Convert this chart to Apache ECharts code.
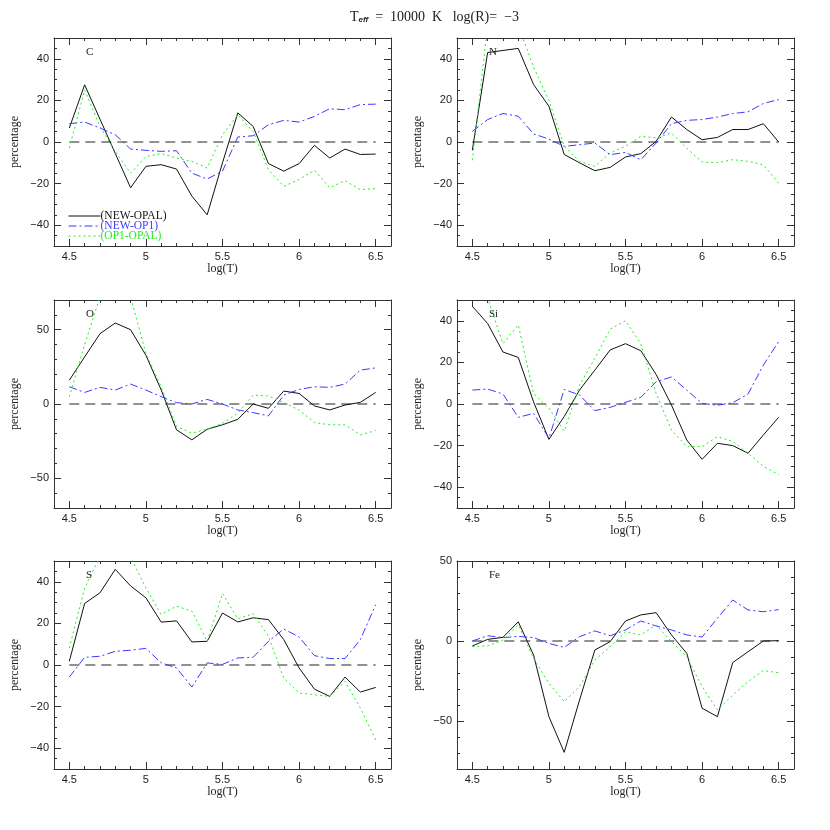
<!DOCTYPE html>
<html>
<head>
<meta charset="utf-8">
<script src="https://cdn.jsdelivr.net/npm/echarts@6/dist/echarts.min.js"></script>
<style>
html, body { margin: 0; padding: 0; background: #fff; }
#chart { width: 830px; height: 830px; }
</style>
</head>
<body>
<div id="chart"></div>
<script>
// log(T) grid, same for every panel
const logT = [4.5, 4.6, 4.7, 4.8, 4.9, 5.0, 5.1, 5.2, 5.3, 5.4, 5.5, 5.6, 5.7, 5.8, 5.9, 6.0, 6.1, 6.2, 6.3, 6.4, 6.5]
const xTicks = [4.5, 5, 5.5, 6, 6.5]
const seriesNames = ['(NEW-OPAL)', '(NEW-OP1)', '(OP1-OPAL)']
const elements = ['C', 'N', 'O', 'Si', 'S', 'Fe']

// C
const C_newOpal = [6.7, 27.5, 11, -5.5, -22, -11.7, -10.9, -13, -26, -35, -10, 14, 7.5, -10.4, -14, -10.4, -1.6, -7.7, -3.4, -6, -5.8]
const C_newOp1 = [8.8, 9.6, 6.7, 3.5, -3.4, -4, -4.5, -4.2, -15, -17.8, -14, 2.4, 3, 8.3, 10.4, 9.6, 12.3, 16, 15.5, 18, 18.2]
const C_op1Opal = [-2.9, 25, 7.5, -4.5, -15, -7, -5.6, -7.7, -9.3, -12.5, 3.5, 13, 5, -13.3, -21.3, -18, -13.6, -22, -18.6, -22.9, -22.4]
// N
const N_newOpal = [-4, 43, 44, 45, 27.6, 17.2, -6, -10, -13.8, -12.2, -7.2, -5.6, 0.3, 12, 6, 1.1, 2.2, 6, 6, 8.8, 0]
const N_newOp1 = [5.1, 10.8, 13.7, 12.4, 3.9, 1.4, -2.1, -1.3, -0.5, -6.1, -5, -8.5, -0.5, 8.8, 10.4, 10.8, 12, 13.7, 14.5, 18.5, 20.4]
const N_op1Opal = [-8.8, 56, 62, 56, 36, 20, -2, -9.3, -11.7, -5.3, -2, 2.7, 2, 4.3, -3, -9.6, -10, -8.5, -9.3, -11, -19.8]
// O
const O_newOpal = [16, 31.7, 47.3, 54.5, 50, 32.8, 9.4, -17.4, -24.1, -17, -14, -10.3, 0, -2.9, 8.7, 7.1, -1.3, -4, -0.7, 1.1, 7.8]
const O_newOp1 = [11.6, 7.8, 11.2, 9.4, 13.4, 9.4, 4.9, 0.9, 0, 3.1, 0, -4, -5.8, -8, 6, 9.8, 11.6, 11.2, 13.4, 22.8, 24.3]
const O_op1Opal = [4.9, 40, 72, 85, 72, 34, 11.6, -15, -19.6, -17, -13, -6.2, 6, 5.4, 0.9, -4, -12.5, -14, -14, -20.8, -17.9]
// Si
const Si_newOpal = [47, 38.7, 25, 22.4, 1, -17, -6, 6.7, 16.3, 26, 29, 25.6, 14.2, -0.5, -17.3, -26.6, -18.9, -20, -23.7, -14.9, -6.4]
const Si_newOp1 = [6.7, 7.2, 4.8, -6.4, -4.5, -16.5, 7, 4.3, -3.2, -1.6, 0.8, 3.2, 10.7, 13, 6.7, 0.3, -0.6, 0.6, 4.8, 18.7, 30]
const Si_op1Opal = [58, 51, 29, 38, 5, -2, -13, 9, 22, 36, 40, 29, 5, -12.5, -20.5, -20.5, -15.7, -18, -23.7, -30, -34]
// S
const S_newOpal = [1.8, 29.6, 34.7, 46, 38, 32.3, 20.6, 21.2, 11.1, 11.4, 25, 20.7, 22.7, 21.8, 12.2, -1.4, -11.6, -15.1, -5.8, -13, -10.8]
const S_newOp1 = [-5.8, 3.7, 4.2, 6.6, 7.1, 8, 1, -1.4, -10.6, 1, 0.3, 3.4, 3.7, 11.4, 17.3, 13.5, 4.5, 3.1, 3.1, 12.2, 29]
const S_op1Opal = [8.2, 37, 52, 60, 52, 37, 24.3, 28.3, 25.9, 11.4, 34.4, 22.2, 24.7, 13.8, -6.3, -13.5, -14.3, -15.1, -7.9, -20.7, -36]
// Fe
const Fe_newOpal = [-3.1, 1, 2.3, 12, -8.8, -47.3, -69.6, -36.9, -5.6, -0.4, 12.5, 16.3, 17.7, 3.8, -7.7, -42, -47.3, -13.5, -6.7, 0, 0.2]
const Fe_newOp1 = [0, 3.3, 2.1, 2.9, 2.1, -1.5, -4, 2.7, 6.3, 3.3, 6.9, 12.5, 9.4, 6.9, 3.8, 2.5, 14.2, 25.6, 19.4, 18.3, 19.6]
const Fe_op1Opal = [-3.5, -3.1, 0.6, 10, -10.8, -26.5, -37.9, -28.5, -11.9, -3.5, 5.8, 3.8, 10, -0.4, -9.8, -28.5, -43.1, -33.8, -25.4, -18.5, -19.8]

const panelData = [
  [C_newOpal, C_newOp1, C_op1Opal],
  [N_newOpal, N_newOp1, N_op1Opal],
  [O_newOpal, O_newOp1, O_op1Opal],
  [Si_newOpal, Si_newOp1, Si_op1Opal],
  [S_newOpal, S_newOp1, S_op1Opal],
  [Fe_newOpal, Fe_newOp1, Fe_op1Opal]
]

// y axis per panel: min, max, labelled ticks, minor step
const yTicks50 = [-40, -20, 0, 20, 40]
const yTicks70 = [-50, 0, 50]
const yTicksFe = [-50, 0, 50]
const yAxes = [
  { min: -50, max: 50, ticks: yTicks50, minor: 5 },
  { min: -50, max: 50, ticks: yTicks50, minor: 5 },
  { min: -70, max: 70, ticks: yTicks70, minor: 10 },
  { min: -50, max: 50, ticks: yTicks50, minor: 5 },
  { min: -50, max: 50, ticks: yTicks50, minor: 5 },
  { min: -80, max: 50, ticks: yTicksFe, minor: 10 }
]

const layout = [
  { left: 54, top: 38 }, { left: 457, top: 38 },
  { left: 54, top: 300 }, { left: 457, top: 300 },
  { left: 54, top: 561 }, { left: 457, top: 561 }
]
const W = 337, H = 208
const xMin = 4.4, xMax = 6.6

const colors = ['#111111', '#3a3aff', '#22ee22']
const dashes = ['solid', [8, 3, 2, 3], [2, 3]]
const frame = '#333'
const serif = '"Liberation Serif", "DejaVu Serif", serif'
const sans = '"Liberation Sans", Arial, sans-serif'

function steps(a, b, s) {
  const out = []
  for (let v = a; v <= b + 1e-9; v += s) out.push(Math.round(v * 100) / 100)
  return out
}
const xMinor = steps(xMin, xMax, 0.1)
const minus = v => String(v).replace('-', '\u2212')

const grids = [], xAxis = [], yAxis = [], series = [], titles = []

layout.forEach((p, i) => {
  grids.push({ left: p.left, top: p.top, width: W, height: H })
  const ya = yAxes[i]
  const yMinor = steps(ya.min, ya.max, ya.minor)
  const base = { type: 'value', gridIndex: i, splitLine: { show: false } }
  const line = { show: true, onZero: false, lineStyle: { color: frame, width: 1 } }
  const noLine = { show: false, onZero: false }
  const major = vals => ({ show: true, inside: true, length: 7, customValues: vals, lineStyle: { color: frame } })
  const minor = vals => ({ show: true, inside: true, length: 3, customValues: vals, lineStyle: { color: frame } })

  // x: bottom main, bottom minor, top main, top minor
  xAxis.push({
    ...base, min: xMin, max: xMax, position: 'bottom',
    axisLine: line, axisTick: major(xTicks),
    axisLabel: { show: true, customValues: xTicks, margin: 5, color: '#222', fontSize: 11, fontFamily: sans },
    name: 'log(T)', nameLocation: 'middle', nameGap: 15,
    nameTextStyle: { color: '#222', fontSize: 12, fontFamily: serif }
  })
  xAxis.push({ ...base, min: xMin, max: xMax, position: 'bottom', axisLine: noLine, axisTick: minor(xMinor), axisLabel: { show: false } })
  xAxis.push({ ...base, min: xMin, max: xMax, position: 'top', axisLine: line, axisTick: major(xTicks), axisLabel: { show: false } })
  xAxis.push({ ...base, min: xMin, max: xMax, position: 'top', axisLine: noLine, axisTick: minor(xMinor), axisLabel: { show: false } })

  // y: left main, left minor, right main, right minor
  yAxis.push({
    ...base, min: ya.min, max: ya.max, position: 'left',
    axisLine: line, axisTick: major(ya.ticks),
    axisLabel: { show: true, customValues: ya.ticks, margin: 5, color: '#222', fontSize: 11, fontFamily: sans, formatter: minus },
    name: 'percentage', nameLocation: 'middle', nameGap: 33,
    nameTextStyle: { color: '#222', fontSize: 12, fontFamily: serif }
  })
  yAxis.push({ ...base, min: ya.min, max: ya.max, position: 'left', axisLine: noLine, axisTick: minor(yMinor), axisLabel: { show: false } })
  yAxis.push({ ...base, min: ya.min, max: ya.max, position: 'right', axisLine: line, axisTick: major(ya.ticks), axisLabel: { show: false } })
  yAxis.push({ ...base, min: ya.min, max: ya.max, position: 'right', axisLine: noLine, axisTick: minor(yMinor), axisLabel: { show: false } })

  // zero reference line
  series.push({
    type: 'line', xAxisIndex: 4 * i, yAxisIndex: 4 * i, silent: true,
    symbol: 'none', data: [[xTicks[0], 0], [xTicks[xTicks.length - 1], 0]],
    lineStyle: { color: '#222', width: 1, type: [10, 6] }
  })
  panelData[i].forEach((vals, k) => {
    series.push({
      name: seriesNames[k], type: 'line', xAxisIndex: 4 * i, yAxisIndex: 4 * i,
      symbol: 'none', clip: true,
      data: logT.map((t, j) => [t, vals[j]]),
      lineStyle: { color: colors[k], width: 1, type: dashes[k] },
      itemStyle: { color: colors[k] }
    })
  })

  titles.push({
    text: elements[i], left: p.left + 27, top: p.top + 4,
    textStyle: { fontSize: 11, fontWeight: 'normal', color: '#222', fontFamily: serif }
  })
})

titles.push({
  text: '{t|T}{s|eff}{t|  =  10000  K   log(R)=  \u22123}',
  left: 345, top: 3,
  textStyle: {
    fontWeight: 'normal',
    rich: {
      t: { fontSize: 14, fontFamily: serif, fontWeight: 'normal', color: '#222', lineHeight: 18 },
      s: { fontSize: 8, fontFamily: sans, fontWeight: 'bold', fontStyle: 'italic', color: '#222', lineHeight: 18, padding: [6, 0, 0, 0] }
    }
  }
})

const chart = echarts.init(document.getElementById('chart'))
chart.setOption({
  backgroundColor: '#fff',
  animation: false,
  title: titles,
  grid: grids,
  xAxis: xAxis,
  yAxis: yAxis,
  legend: {
    left: 68, top: 210, orient: 'vertical', padding: 0,
    itemWidth: 32, itemHeight: 8, itemGap: -2,
    itemStyle: { opacity: 0 },
    lineStyle: { width: 1 },
    data: seriesNames.map((n, k) => ({ name: n, textStyle: { color: colors[k] } })),
    textStyle: { fontSize: 11.5, lineHeight: 10, fontFamily: serif, padding: [0, 0, 0, -5] }
  },
  series: series
})
</script>
</body>
</html>
